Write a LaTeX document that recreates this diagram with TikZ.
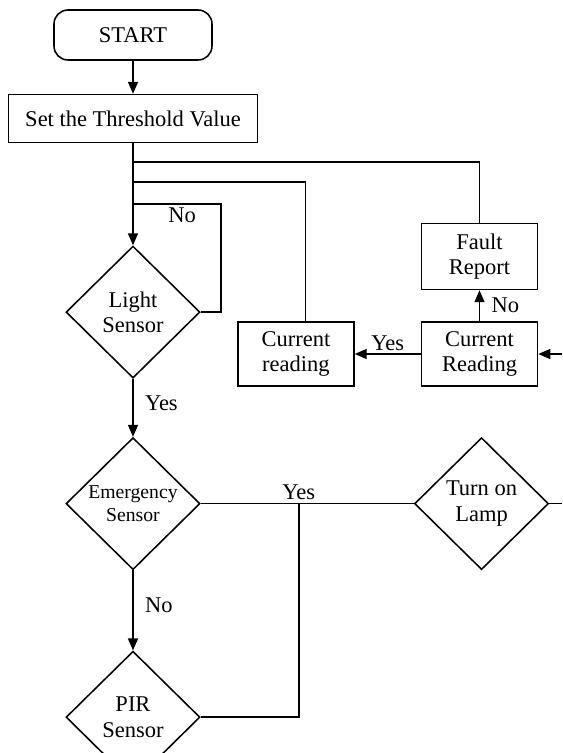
\documentclass[tikz,border=0pt]{standalone}
\usepackage{fontspec}
\setmainfont{Liberation Serif}
\usetikzlibrary{arrows.meta,positioning,calc,shapes.geometric}
\tikzset{
  termbox/.style={
    rounded corners=0.35cm,
    draw,
    line width=1.1pt,
    minimum width=3.95cm,
    minimum height=1.25cm,
    align=center,
    font=\fontsize{16}{18}\selectfont
  },
  procbox/.style={
    draw,
    line width=1.1pt,
    minimum width=2.9cm,
    minimum height=1.6cm,
    inner sep=1pt,
    align=center,
    font=\fontsize{16}{18}\selectfont
  },
  decbox/.style={
    diamond,
    draw,
    line width=1.1pt,
    minimum width=3.35cm,
    minimum height=3.3cm,
    inner sep=0pt,
    align=center,
    font=\fontsize{16}{18}\selectfont
  },
  arrow/.style={
    -{Triangle[length=3mm,width=2.5mm]},
    line width=1.1pt
  },
  wire/.style={
    line width=1.1pt
  },
  lbl/.style={
    inner sep=2pt,
    font=\fontsize{16}{18}\selectfont
  }
}

\begin{document}
\begin{tikzpicture}
\useasboundingbox (0,0) rectangle (14.05,-18.825);
% main column
\node[termbox] (start) at (3.325,-0.875) {START};
\node[procbox, minimum width=6.225cm, minimum height=1.2cm, below=0.825cm of start] (thresh) {Set the Threshold Value};
\node[decbox, below=2.55cm of thresh] (light) {Light\\Sensor};
\node[decbox, below=1.45cm of light, font=\fontsize{14}{17}\selectfont] (emerg) {Emergency\\Sensor};
\node[decbox, below=2cm of emerg] (pir) {PIR\\Sensor};
\node[decbox, right=5.325cm of emerg] (lamp) {Turn on\\Lamp};
% current check
\node[procbox] (currB) at (11.9875,-8.85) {Current\\Reading};
\node[procbox, above=0.775cm of currB, minimum height=1.65cm] (fault) {Fault\\Report};
\node[procbox, left=1.65cm of currB] (currA) {Current\\reading};
% taps and free ends
\coordinate (tapF) at (3.325,-4.05);
\coordinate (tapC) at (3.325,-4.55);
\coordinate (tapN) at (3.325,-5.1);
\coordinate (upC) at ($(currA.north)+(0.235,0)$);
\coordinate (join) at ($(emerg.east)+(2.45,0)$);
\coordinate (inR) at (14.05,-8.85);
\coordinate (offL) at (lamp.east -| inR);
\draw[arrow] (start) -- (thresh);
\draw[arrow] (thresh) -- (light);
\draw[wire] (tapF) -| (fault.north);
\draw[wire] (tapC) -| (upC);
\draw[wire] (light.east) -- ++(0.5,0) |- node[lbl, pos=0.72, below] {No} (tapN);
\draw[arrow] (light) -- node[lbl, right=6pt, pos=0.42] {Yes} (emerg);
\draw[arrow] (emerg) -- node[lbl, right=6pt, pos=0.44] {No} (pir);
\draw[wire] (emerg.east) -- (lamp.west);
\draw[wire] (pir.east) -| (join) node[lbl, above] {Yes};
\draw[wire] (lamp.east) -- (offL);
\draw[arrow] (inR) -- (currB);
\draw[arrow] (currB) -- node[lbl, above] {Yes} (currA);
\draw[arrow] (currB) -- node[lbl, right=6pt] {No} (fault);
\end{tikzpicture}
\end{document}
